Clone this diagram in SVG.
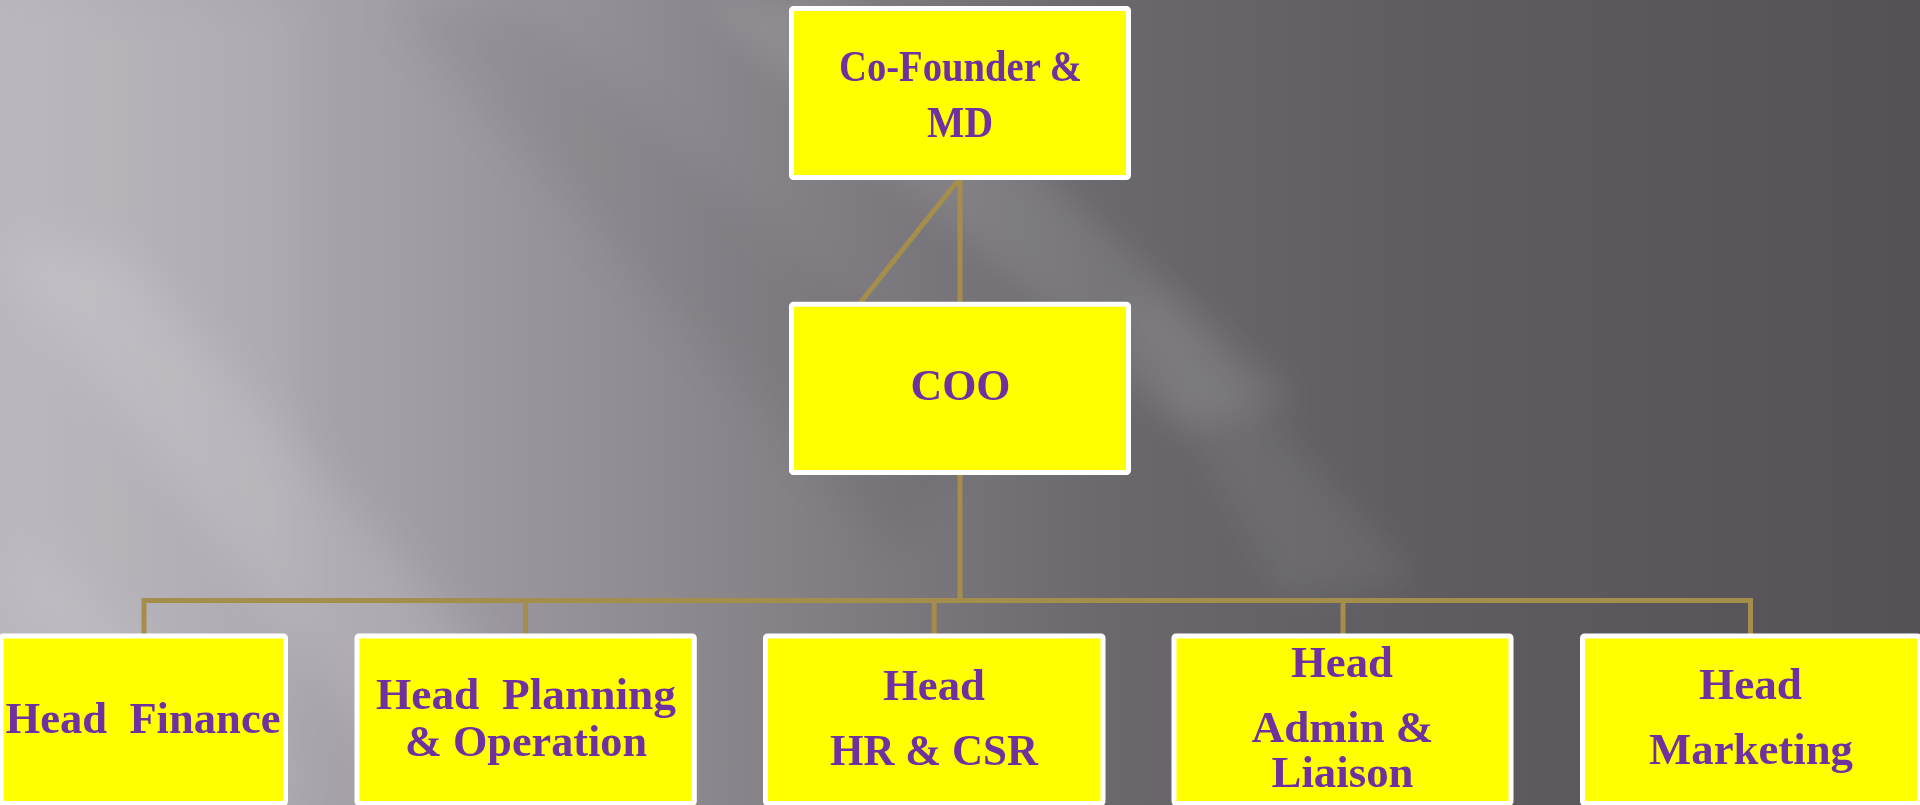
<svg xmlns="http://www.w3.org/2000/svg" width="1920" height="805" viewBox="0 0 1920 805">
<defs>
<linearGradient id="bg" x1="0" y1="0" x2="1920" y2="0" gradientUnits="userSpaceOnUse">
<stop offset="0" stop-color="#b7b4bb"/>
<stop offset="0.2" stop-color="#a29fa6"/>
<stop offset="0.4" stop-color="#858288"/>
<stop offset="0.58" stop-color="#6a686d"/>
<stop offset="0.75" stop-color="#5e5c61"/>
<stop offset="1" stop-color="#545257"/>
</linearGradient>
<filter id="blur" x="-20%" y="-20%" width="140%" height="140%"><feGaussianBlur stdDeviation="22"/></filter>
<filter id="blur2" x="-20%" y="-20%" width="140%" height="140%"><feGaussianBlur stdDeviation="16"/></filter>
<style>
.box{fill:#ffff00;stroke:#ffffff;stroke-width:5}
.t{font-family:"Liberation Serif","Times New Roman",serif;font-weight:bold;font-size:44px;fill:#7030a0;text-anchor:middle}
.c{fill:none;stroke:#a58e4c;stroke-width:5}
</style>
</defs>
<g id="background">
<rect x="0" y="0" width="1920" height="805" fill="url(#bg)"/>
<g filter="url(#blur)">
<polygon points="0,0 300,0 300,805 0,805" fill="#ffffff" opacity="0.06"/>
<polygon points="0,250 120,250 620,805 420,805" fill="#ffffff" opacity="0.12"/>
<polygon points="0,560 60,560 300,805 180,805" fill="#ffffff" opacity="0.08"/>
<polygon points="380,0 520,0 980,420 900,560" fill="#000000" opacity="0.05"/>
</g>
<g filter="url(#blur2)">
<polygon points="700,0 840,0 1300,400 1180,430" fill="#ffffff" opacity="0.09"/>
<polygon points="1120,300 1160,300 1420,580 1280,600" fill="#ffffff" opacity="0.06"/>
</g>
</g>
<g id="connectors">
<line class="c" x1="960" y1="178" x2="960" y2="303"/>
<line class="c" x1="960" y1="178" x2="860" y2="303"/>
<line class="c" x1="960" y1="473" x2="960" y2="601"/>
<path class="c" d="M144,636 V600.5 H1750.5 V636"/>
<line class="c" x1="525.5" y1="600.5" x2="525.5" y2="636"/>
<line class="c" x1="934.2" y1="600.5" x2="934.2" y2="636"/>
<line class="c" x1="1343" y1="600.5" x2="1343" y2="636"/>
</g>
<g id="node-md">
<rect class="box" x="791.5" y="8.5" width="337" height="169" rx="2"/>
<text class="t" x="960.5" y="81" font-size="42" textLength="243" lengthAdjust="spacingAndGlyphs">Co-Founder &amp;</text>
<text class="t" x="960" y="137" font-size="42" textLength="66" lengthAdjust="spacingAndGlyphs">MD</text>
</g>
<g id="node-coo">
<rect class="box" x="791.5" y="304.2" width="337" height="168.3" rx="2"/>
<text class="t" x="960.5" y="400" textLength="100" lengthAdjust="spacingAndGlyphs">COO</text>
</g>
<g id="node-finance">
<rect class="box" x="1" y="636" width="284.5" height="167.5" rx="2"/>
<text class="t" x="143" y="733" xml:space="preserve" textLength="275" lengthAdjust="spacingAndGlyphs">Head  Finance</text>
</g>
<g id="node-planning">
<rect class="box" x="357" y="636" width="337.3" height="167.5" rx="2"/>
<text class="t" x="526" y="709" xml:space="preserve" textLength="300" lengthAdjust="spacingAndGlyphs">Head  Planning</text>
<text class="t" x="526" y="756" textLength="242" lengthAdjust="spacingAndGlyphs">&amp; Operation</text>
</g>
<g id="node-hr">
<rect class="box" x="765.5" y="636" width="337.5" height="167.5" rx="2"/>
<text class="t" x="934" y="700" textLength="102" lengthAdjust="spacingAndGlyphs">Head</text>
<text class="t" x="934" y="765" textLength="208" lengthAdjust="spacingAndGlyphs">HR &amp; CSR</text>
</g>
<g id="node-admin">
<rect class="box" x="1174" y="636" width="337" height="167.5" rx="2"/>
<text class="t" x="1342" y="677" textLength="102" lengthAdjust="spacingAndGlyphs">Head</text>
<text class="t" x="1342.5" y="742" textLength="182" lengthAdjust="spacingAndGlyphs">Admin &amp;</text>
<text class="t" x="1342.5" y="787" textLength="142" lengthAdjust="spacingAndGlyphs">Liaison</text>
</g>
<g id="node-marketing">
<rect class="box" x="1582.5" y="636" width="337" height="167.5" rx="2"/>
<text class="t" x="1750.5" y="699" textLength="103" lengthAdjust="spacingAndGlyphs">Head</text>
<text class="t" x="1751" y="764" textLength="204" lengthAdjust="spacingAndGlyphs">Marketing</text>
</g>
</svg>
